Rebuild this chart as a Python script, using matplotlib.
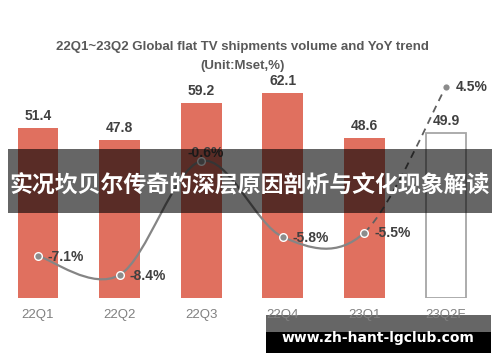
import matplotlib
matplotlib.use("Agg")
import matplotlib.pyplot as plt
from matplotlib.path import Path
from matplotlib.patches import PathPatch, Rectangle

plt.rcParams['font.family'] = ['Liberation Sans', 'Noto Sans CJK SC', 'DejaVu Sans']

quarters = ['22Q1', '22Q2', '22Q3', '22Q4', '23Q1', '23Q2F']
shipments = [51.4, 47.8, 59.2, 62.1, 48.6, 49.9]
yoy = [-7.1, -8.4, -0.6, -5.8, -5.5, 4.5]

bar_color = '#E0705F'
fig = plt.figure(figsize=(5, 3.62), dpi=100)
ax = fig.add_axes([0, 1 - 298 / 362, 1, 298 / 362])
ax2 = ax.twinx()

xs = list(range(len(quarters)))
colors = [bar_color] * 5 + ['white']
edges = [bar_color] * 5 + ['#A6A6A6']
ax.bar(xs, shipments, width=0.5, color=colors, edgecolor=edges, linewidth=[0] * 5 + [1.3])
for x, v in zip(xs, shipments):
    ax.text(x, v + 1.5, f'{v}', ha='center', va='bottom', fontsize=10,
            fontweight='bold', color='#404040')

ax.set_xlim(-0.466, 5.662)
ax.set_ylim(0, 90.3)
ax2.set_ylim(-9.98, 10.43)
for a in (ax, ax2):
    a.axis('off')


# smooth line (Excel style bezier) through the points; forecast segment dashed
def segment(i):
    n = len(xs)
    i0 = max(i - 1, 0)
    i3 = min(i + 2, n - 1)
    c1 = (xs[i] + (xs[i + 1] - xs[i0]) / 6, yoy[i] + (yoy[i + 1] - yoy[i0]) / 6)
    c2 = (xs[i + 1] - (xs[i3] - xs[i]) / 6, yoy[i + 1] - (yoy[i3] - yoy[i]) / 6)
    return [c1, c2, (xs[i + 1], yoy[i + 1])]


verts = [(xs[0], yoy[0])]
codes = [Path.MOVETO]
for i in range(4):
    verts += segment(i)
    codes += [Path.CURVE4] * 3
ax2.add_patch(PathPatch(Path(verts, codes), facecolor='none', edgecolor='#858585', lw=1.6))
dverts = [(xs[4], yoy[4])] + segment(4)
ax2.add_patch(PathPatch(Path(dverts, [Path.MOVETO] + [Path.CURVE4] * 3), facecolor='none',
                        edgecolor='#5F5F5F', lw=1.3, ls=(0, (4, 3))))
ax2.plot(xs, yoy, 'o', ms=5.5, mfc='#8C8C8C', mec='white', mew=1.0)

for i, v in enumerate(yoy):
    lbl = f'{v}%'
    if i == 2:
        ax2.text(i + 0.05, v + 0.05, lbl, ha='center', va='bottom', fontsize=10,
                 fontweight='bold', color='#404040')
    else:
        ax2.text(i + 0.12, v - 0.05, lbl, ha='left', va='center', fontsize=10,
                 fontweight='bold', color='#404040')

for x, q in zip(xs, quarters):
    fig.text((38 + 81.6 * x) / 500, 1 - 315 / 362, q, ha='center', va='center',
             fontsize=9.5, color='#808080')

fig.text(0.485, 1 - 47 / 362, '22Q1~23Q2 Global flat TV shipments volume and YoY trend',
         ha='center', va='center', fontsize=9.5, fontweight='bold', color='#595959')
fig.text(0.485, 1 - 66 / 362, '(Unit:Mset,%)', ha='center', va='center',
         fontsize=9.5, fontweight='bold', color='#595959')

# overlay banner
fig.patches.append(Rectangle((8 / 500, 1 - 213 / 362), 484 / 500, 64 / 362,
                             transform=fig.transFigure, color='black', alpha=0.6, lw=0))
fig.text(0.5, 1 - 185 / 362, '实况坎贝尔传奇的深层原因剖析与文化现象解读',
         ha='center', va='center', fontsize=16.5, fontweight='bold', color='white',
         family=['Noto Sans CJK SC', 'DejaVu Sans'])

# site watermark
fig.patches.append(Rectangle((266 / 500, 1 - 332 / 362), 225 / 500, 17 / 362,
                             transform=fig.transFigure, color='black', alpha=0.6, lw=0))
fig.patches.append(Rectangle((266 / 500, 1 - 353 / 362), 225 / 500, 21 / 362,
                             transform=fig.transFigure, color='black', lw=0))
fig.text(378 / 500, 1 - 338 / 362, 'www.zh-hant-lgclub.com', ha='center', va='center',
         fontsize=10, fontweight='bold', color='white', family=['DejaVu Sans'])

fig.savefig('out.png', dpi=100)
